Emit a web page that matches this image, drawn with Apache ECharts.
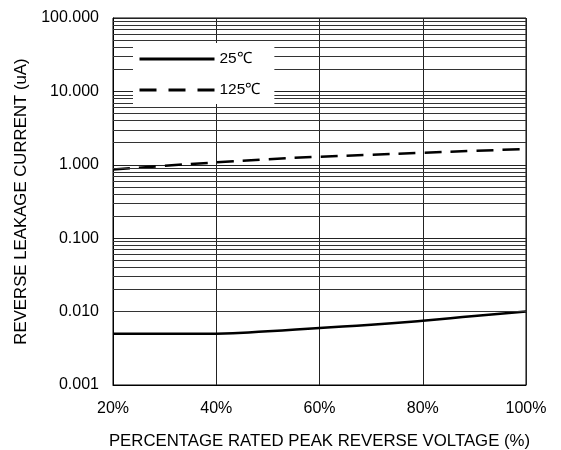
<!DOCTYPE html>
<html><head><meta charset="utf-8">
<script src="https://cdn.jsdelivr.net/npm/echarts@6/dist/echarts.min.js"></script>
<style>html,body{margin:0;padding:0;background:#fff}#c{width:561px;height:450px}</style>
</head><body><div id="c"></div>
<script>
var voltage = [20, 30, 40, 50, 60, 70, 80, 90, 100];
var current25 = [0.0050, 0.0050, 0.0050, 0.0054, 0.0060, 0.0066, 0.0075, 0.0087, 0.0100];
var current125 = [0.86, 0.97, 1.08, 1.19, 1.29, 1.37, 1.46, 1.55, 1.64];
var xTicks = [20, 40, 60, 80, 100];
var yTicks = [0.001, 0.01, 0.1, 1, 10, 100];

var minorGrid = [];
for (var d = -3; d <= 1; d++) {
  for (var k = 2; k <= 9; k++) minorGrid.push(+(k * Math.pow(10, d)).toPrecision(3));
}

var font = 'Liberation Sans, Arial, sans-serif';
var chart = echarts.init(document.getElementById('c'));
chart.setOption({
  animation: false,
  backgroundColor: '#fff',
  grid: {left: 113, right: 35, top: 18, bottom: 65, show: true, borderColor: '#000', borderWidth: 1, z: 0,
         containLabel: false, outerBoundsMode: 'none'},
  legend: {
    orient: 'vertical', left: 133, top: 43, z: 20,
    backgroundColor: '#fff', padding: [8, 14, 6, 5],
    itemWidth: 75, itemHeight: 14, itemGap: 15,
    itemStyle: {opacity: 0},
    textStyle: {fontFamily: font, fontSize: 15.5, color: '#000'},
    data: [
      {name: '25℃', lineStyle: {width: 3, type: 'solid', color: '#000'}},
      {name: '125℃', lineStyle: {width: 3, type: [17, 12], color: '#000'}}
    ]
  },
  xAxis: {
    type: 'value', min: xTicks[0], max: xTicks[xTicks.length - 1], interval: 20,
    name: 'PERCENTAGE RATED PEAK REVERSE VOLTAGE (%)', nameLocation: 'middle', nameGap: 48,
    nameTextStyle: {fontFamily: font, fontSize: 16.8, color: '#000'},
    axisLine: {lineStyle: {color: '#000'}},
    axisTick: {show: false},
    axisLabel: {formatter: '{value}%', fontFamily: font, fontSize: 16, color: '#000', margin: 16},
    splitLine: {show: true, lineStyle: {color: '#222', width: 1}}
  },
  yAxis: {
    type: 'log', logBase: 10, min: yTicks[0], max: yTicks[yTicks.length - 1],
    name: 'REVERSE LEAKAGE CURRENT (uA)', nameLocation: 'middle', nameGap: 83,
    nameTextStyle: {fontFamily: font, fontSize: 16.8, color: '#000'},
    axisLine: {lineStyle: {color: '#000'}},
    axisTick: {show: false},
    axisLabel: {formatter: function (v) { return v.toFixed(3); }, fontFamily: font, fontSize: 16, color: '#000', margin: 14},
    splitLine: {show: true, lineStyle: {color: '#222', width: 1}}
  },
  series: [
    {
      name: '25℃', type: 'line', symbol: 'none', smooth: true, z: 3,
      lineStyle: {color: '#000', width: 2.5, type: 'solid'},
      itemStyle: {color: '#000'},
      data: voltage.map(function (x, i) { return [x, current25[i]]; }),
      markLine: {
        silent: true, symbol: 'none', label: {show: false}, animation: false,
        lineStyle: {color: '#333', width: 1, type: 'solid'},
        data: minorGrid.map(function (v) { return {yAxis: v}; })
      }
    },
    {
      name: '125℃', type: 'line', symbol: 'none', smooth: true, z: 3,
      lineStyle: {color: '#000', width: 2.5, type: [17, 9]},
      itemStyle: {color: '#000'},
      data: voltage.map(function (x, i) { return [x, current125[i]]; })
    }
  ]
});
</script></body></html>
